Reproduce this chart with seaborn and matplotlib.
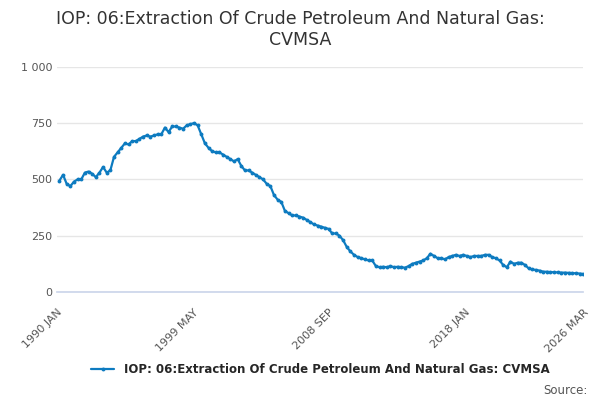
"""IOP 06 chart recreation."""
import matplotlib
matplotlib.use("Agg")
import matplotlib.pyplot as plt
import seaborn as sns
import pandas as pd

# quarterly readings (Mar, Jun, Sep, Dec), 1990 .. 2026 Q1
values = [
    495, 520, 480, 470, 490, 500, 500, 530, 535, 525, 510, 530,
    555, 530, 540, 600, 620, 640, 660, 655, 670, 670, 680, 690,
    695, 690, 695, 700, 700, 730, 710, 735, 735, 730, 725, 740,
    745, 750, 740, 700, 660, 640, 625, 620, 620, 610, 600, 590,
    580, 590, 560, 540, 540, 530, 520, 510, 500, 480, 470, 430,
    410, 400, 360, 350, 340, 340, 335, 330, 320, 310, 300, 295,
    290, 285, 280, 260, 260, 250, 230, 200, 180, 165, 155, 150,
    145, 140, 140, 115, 110, 112, 110, 115, 110, 112, 110, 108,
    115, 125, 130, 135, 140, 150, 170, 160, 150, 150, 145, 155,
    160, 165, 160, 165, 160, 155, 160, 160, 160, 165, 165, 155,
    150, 140, 120, 110, 135, 125, 130, 130, 120, 105, 100, 98,
    95, 90, 90, 88, 88, 87, 86, 86, 85, 84, 83, 82, 80,
]
months = [2 + 3 * i for i in range(len(values))]  # months since 1990 JAN
months[-1] = 434  # 2026 MAR
tick_months = sorted(set(list(range(0, 435, 28)) + [434]))
label_months = {0: "1990 JAN", 112: "1999 MAY", 224: "2008 SEP", 336: "2018 JAN", 434: "2026 MAR"}
series = "IOP: 06:Extraction Of Crude Petroleum And Natural Gas: CVMSA"

df = pd.DataFrame({"m": months, "v": values})
sns.set_theme(style="white")
plt.rcParams["font.family"] = ["DejaVu Sans"]

fig, ax = plt.subplots(figsize=(6, 4), dpi=100)
sns.lineplot(data=df, x="m", y="v", color="#0d7bc0", lw=1.6, marker="o",
             markersize=2.8, markeredgewidth=0, label=series, ax=ax)
ax.set_xlim(0, 434)
ax.set_ylim(0, 1000)
ax.set_yticks([0, 250, 500, 750, 1000])
ax.set_yticklabels(["0", "250", "500", "750", "1 000"], fontsize=8, color="#555")
ax.set_xticks(tick_months)
ax.set_xticklabels([label_months.get(t, "") for t in tick_months],
                   rotation=45, ha="right", rotation_mode="anchor", fontsize=8, color="#555")
ax.tick_params(axis="x", length=8, color="#ccd6eb", pad=3)
ax.tick_params(axis="y", length=0)
ax.grid(axis="y", color="#e6e6e6", lw=1)
for s in ["top", "right", "left"]:
    ax.spines[s].set_visible(False)
ax.spines["bottom"].set_color("#ccd6eb")
ax.set_xlabel(""); ax.set_ylabel("")
fig.suptitle("IOP: 06:Extraction Of Crude Petroleum And Natural Gas:\nCVMSA",
             fontsize=12.5, color="#333", y=0.975)
ax.legend(loc="upper center", bbox_to_anchor=(0.5, -0.27), frameon=False,
          handlelength=2, prop={"weight": "bold", "size": 8.5})
fig.text(0.98, 0.015, "Source:", ha="right", fontsize=8.5, color="#555")
fig.subplots_adjust(left=0.095, right=0.972, top=0.833, bottom=0.27)
fig.savefig("out.png", dpi=100)
